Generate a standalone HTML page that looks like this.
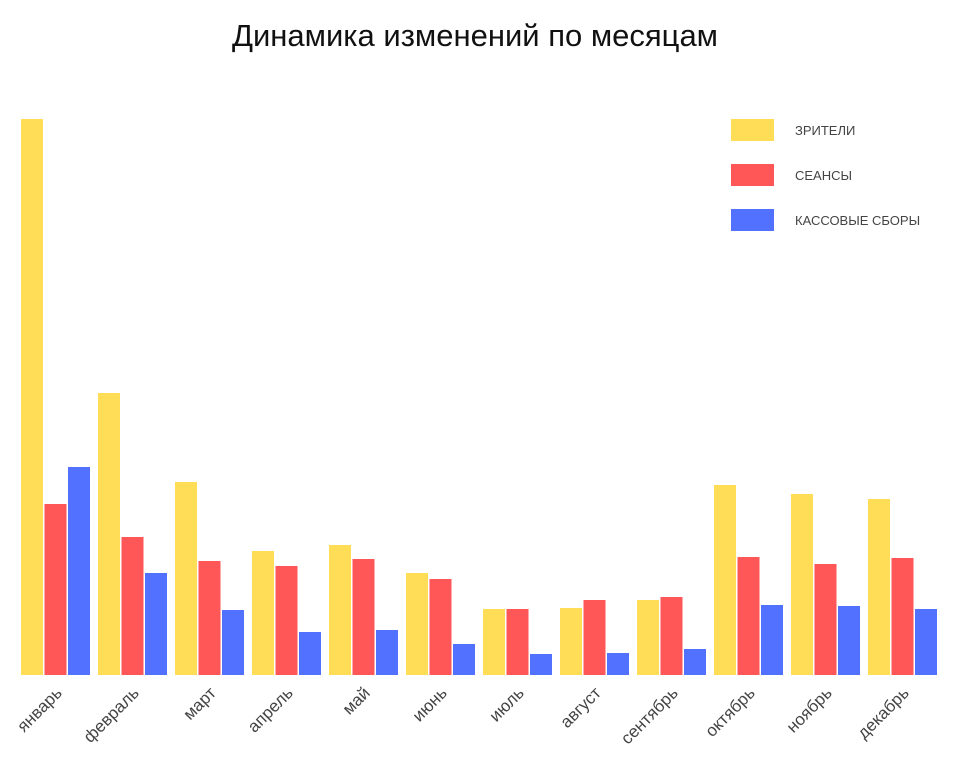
<!DOCTYPE html>
<html><head><meta charset="utf-8"><style>
body{margin:0;background:#fff;}
svg{display:block;font-family:"Liberation Sans",sans-serif;}
</style></head><body>
<svg id="chart" width="958" height="768">
<text x="475" y="46" text-anchor="middle" font-size="31" fill="#111">Динамика изменений по месяцам</text>
<g id="bars"></g>
<g id="labels"></g>
<g id="legend"></g>
</svg>
<script>
const months = ["январь","февраль","март","апрель","май","июнь","июль","август","сентябрь","октябрь","ноябрь","декабрь"];
const viewers = [556,282,193,124,130,102,66,67,75,190,181,176];
const sessions = [171,138,114,109,116,96,66,75,78,118,111,117];
const boxOffice = [208,102,65,43,45,31,21,22,26,70,69,66];
const seriesNames = ["ЗРИТЕЛИ","СЕАНСЫ","КАССОВЫЕ СБОРЫ"];
const colors = ["#FFDD57","#FF5757","#5271FF"];
const series = [viewers, sessions, boxOffice];
const ns = "http://www.w3.org/2000/svg";
const baseY = 675, maxV = 556, plotH = 556;
function yScale(v){ return baseY - v / maxV * plotH; }
function xGroup(i){ return 21 + i * 77; }
const bars = document.getElementById('bars');
const labels = document.getElementById('labels');
months.forEach((m, i) => {
  series.forEach((s, k) => {
    const r = document.createElementNS(ns, 'rect');
    
    
    const y = yScale(s[i]);
    r.setAttribute('x', xGroup(i) + k * 23.5);
    r.setAttribute('y', y);
    r.setAttribute('width', 22);
    r.setAttribute('height', baseY - y);
    r.setAttribute('fill', colors[k]);
    bars.appendChild(r);
  });
  const t = document.createElementNS(ns, 'text');
  
  
  const cx = xGroup(i) + 42, cy = 694;
  t.setAttribute('x', cx); t.setAttribute('y', cy);
  t.setAttribute('text-anchor', 'end');
  t.setAttribute('font-size', '17');
  t.setAttribute('fill', '#444');
  t.setAttribute('transform', 'rotate(-45 ' + cx + ' ' + cy + ')');
  t.textContent = m;
  labels.appendChild(t);
});
const legend = document.getElementById('legend');
seriesNames.forEach((n, k) => {
  const r = document.createElementNS(ns, 'rect');
  
  
  r.setAttribute('x', 731); r.setAttribute('y', 119 + k * 45);
  r.setAttribute('width', 43); r.setAttribute('height', 22);
  r.setAttribute('fill', colors[k]);
  legend.appendChild(r);
  const t = document.createElementNS(ns, 'text');
  
  
  t.setAttribute('x', 795); t.setAttribute('y', 135 + k * 45);
  t.setAttribute('font-size', '13'); t.setAttribute('fill', '#444');
  t.textContent = n;
  legend.appendChild(t);
});
</script>
</body></html>
